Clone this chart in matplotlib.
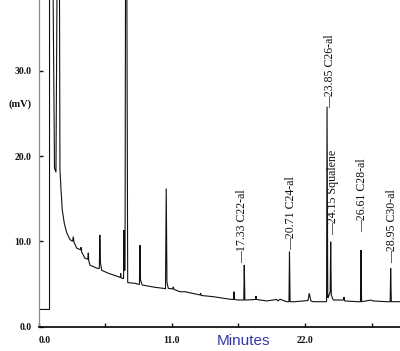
import matplotlib
matplotlib.use('Agg')
import matplotlib.pyplot as plt

# trace vertices (minutes, mV)
times = [0.0, 0.91, 0.91, 1.20, 1.32, 1.44, 1.53, 1.73, 1.77, 1.86, 1.96, 2.13, 2.33, 2.60,
         2.81, 2.87, 2.93, 3.15, 3.47, 3.51, 3.56, 3.84, 4.07, 4.11, 4.15, 4.25, 4.80,
         5.02, 5.06, 5.11, 5.21, 5.76, 6.58, 6.75, 6.78, 6.82, 6.95, 7.02, 7.05, 7.09,
         7.14, 7.18, 7.29, 7.36, 7.96, 8.33, 8.37, 8.42, 8.56, 9.61, 10.30, 10.48, 10.54,
         10.60, 10.71, 11.06, 11.12, 11.18, 11.67, 12.09, 13.34, 13.38, 13.43, 14.42,
         15.80, 16.09, 16.13, 16.18, 16.49, 16.94, 16.98, 17.03, 17.18, 17.90, 17.95,
         17.99, 18.83, 19.65, 19.76, 19.93, 20.48, 20.67, 20.71, 20.76, 21.16, 22.24,
         22.34, 22.48, 22.67, 23.64, 23.77, 23.81, 23.87, 23.95, 24.07, 24.11, 24.16,
         24.32, 25.17, 25.21, 25.27, 26.39, 26.57, 26.61, 26.66, 27.43, 27.62, 28.73,
         29.02, 29.06, 29.11, 29.83]
signal = [2.0, 2.0, 40.0, 40.0, 18.6, 18.1, 40.0, 40.0, 18.4, 16.0, 13.7, 12.1, 11.0, 10.2,
          10.0, 10.55, 9.9, 9.2, 9.0, 9.3, 8.75, 8.0, 7.9, 8.65, 7.7, 7.2, 6.85,
          6.8, 10.75, 7.55, 6.6, 6.25, 5.85, 5.75, 6.25, 5.7, 5.65, 5.63, 11.3, 6.6,
          6.6, 40.0, 40.0, 5.15, 5.07, 4.93, 9.55, 5.45, 4.87, 4.6, 4.48, 4.43, 16.2,
          5.2, 4.48, 4.4, 4.67, 4.35, 4.08, 4.08, 3.7, 3.9, 3.64, 3.5,
          3.2, 3.17, 4.08, 3.17, 3.11, 3.11, 7.22, 3.11, 3.11, 3.17, 3.58,
          3.17, 3.0, 3.17, 3.0, 3.2, 2.91, 2.91, 8.78, 2.91, 2.91, 3.05,
          3.9, 3.0, 2.91, 2.91, 2.91, 25.8, 3.35, 3.6, 4.05, 9.95, 3.7,
          3.11, 3.11, 3.46, 3.0, 2.91, 2.91, 8.98, 2.91, 3.1, 3.0, 2.91,
          2.91, 6.83, 2.91, 2.91]

# peak annotations: text, x (min), y (mV) where the label starts
peak_labels = ['17.33 C22-al', '20.71 C24-al', '23.85 C26-al', '24.15 Squalene',
               '26.61 C28-al', '28.95 C30-al']
label_x = [16.79, 20.83, 24.05, 24.30, 26.69, 29.17]
label_y = [7.45, 8.98, 25.6, 10.7, 11.1, 7.45]

x_ticks = [0.0, 5.5, 11.0, 16.5, 22.0, 27.5]
x_ticklabels = ['0.0', '', '11.0', '', '22.0', '']
y_ticks = [0.0, 10.0, 20.0, 30.0]
y_ticklabels = ['0.0', '10.0', '20.0', '30.0']

fig = plt.figure(figsize=(4.0, 3.51), dpi=100)
ax = fig.add_axes([38.5 / 400, 24.5 / 351, 361.5 / 400, 326.5 / 351])

ax.plot(times, signal, color='#111111', lw=0.8, solid_joinstyle='miter')
ax.set_xlim(0, 29.83)
ax.set_ylim(0, 38.32)

for txt, lx, ly in zip(peak_labels, label_x, label_y):
    ax.text(lx, ly, '\u2014' + txt, rotation=90, ha='center', va='bottom',
            fontsize=8.6, family='Liberation Serif', color='#111111')

ax.spines['top'].set_visible(False)
ax.spines['right'].set_visible(False)
ax.spines['left'].set_color('#8a8a8a')
ax.spines['left'].set_linestyle((0, (5, 1)))
ax.spines['left'].set_linewidth(0.9)
ax.spines['bottom'].set_linewidth(1.2)

ax.set_xticks(x_ticks)
ax.set_xticklabels(x_ticklabels)
ax.set_yticks(y_ticks)
ax.set_yticklabels(y_ticklabels)
ax.tick_params(axis='both', direction='in', length=3, width=1, colors='#111111',
               labelsize=7)
ax.tick_params(axis='x', pad=7)
ax.tick_params(axis='y', pad=5)
for lab in ax.get_xticklabels() + ax.get_yticklabels():
    lab.set_family('Liberation Serif')
    lab.set_fontweight('bold')
# the "0.0" time label sits a little right of the axis origin
ax.get_xticklabels()[0].set_horizontalalignment('left')

fig.text(20 / 400, 1 - 104 / 351, '(mV)', ha='center', va='center', fontsize=7.5,
         family='Liberation Serif', fontweight='bold', color='#111111')
fig.text(243.5 / 400, 1 - 341 / 351, 'Minutes', ha='center', va='center', fontsize=11,
         family='Liberation Sans', color='#3336a8')

fig.savefig('out.png', dpi=100)
